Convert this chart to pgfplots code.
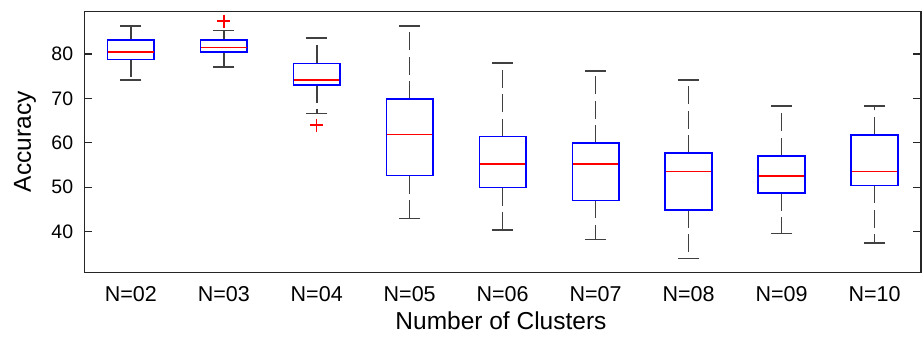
\documentclass[border=0pt]{standalone}
\usepackage{pgfplots}
\usepackage{pgfplotstable}
\pgfplotsset{compat=1.18}
\usepackage{fontspec}
\setmainfont{Liberation Sans}
\definecolor{wcol}{gray}{0.25}
% box statistics: position, lower whisker, lower quartile, median, upper quartile, upper whisker
\pgfplotstableread{
x lw lq med uq uw
1 74.1 78.8 80.5 83.1 86.3
2 77.1 80.5 81.5 83.1 85.3
3 66.6 73.1 74.1 77.9 83.6
4 42.9 52.6 61.9 69.8 86.3
5 40.3 49.9 55.2 61.4 78.0
6 38.2 47.0 55.2 59.9 76.2
7 33.9 44.9 53.5 57.7 74.1
8 39.6 48.7 52.5 57.1 68.3
9 37.4 50.4 53.5 61.8 68.3
}\stats
\pgfplotstableread{
x y
2 87.4
3 64.0
}\outl
\begin{document}
\begin{tikzpicture}
\path[use as bounding box] (-84.3bp,-65bp) rectangle (839.7bp,272.3bp);
\begin{axis}[
  scale only axis,
  width=836.7bp, height=261bp,
  xmin=0.5, xmax=9.5,
  ymin=30.82, ymax=89.63,
  clip=false,
  axis line style={draw=black!85, line width=1.4bp},
  xtick={1,2,3,4,5,6,7,8,9},
  xticklabels={N=02,N=03,N=04,N=05,N=06,N=07,N=08,N=09,N=10},
  xtick style={draw=none},
  ytick={40,50,60,70,80},
  ytick style={draw=black!85, line width=1.3bp},
  tick align=inside,
  major tick length=8bp,
  /pgf/number format/assume math mode=true,
  yticklabel style={font=\fontsize{19.5bp}{23bp}\selectfont, anchor=east, inner sep=0pt, xshift=-11bp},
  xticklabel style={font=\fontsize{21.5bp}{25bp}\selectfont, anchor=base, inner sep=0pt, yshift=-29bp},
  xlabel={Number of Clusters},
  ylabel={Accuracy},
  xlabel style={font=\fontsize{24.5bp}{28bp}\selectfont, at={(axis description cs:0.498,-0.2184)}, anchor=base, inner sep=0pt},
  ylabel style={font=\fontsize{24.5bp}{28bp}\selectfont, at={(axis description cs:-0.0709,0.5)}, anchor=center, inner sep=0pt},
]
% upper whiskers (dashed) with solid caps
\addplot[draw=none, mark=none, error bars/.cd, y dir=plus, y explicit,
  error bar style={draw=wcol, line width=1.6bp, dash pattern=on 18bp off 6.5bp},
  error mark=-, error mark options={rotate=90, solid, draw=wcol, line width=1.6bp, mark size=10.7bp}]
  table[x=x, y=uq, y error expr=\thisrow{uw}-\thisrow{uq}] {\stats};
% lower whiskers
\addplot[draw=none, mark=none, error bars/.cd, y dir=minus, y explicit,
  error bar style={draw=wcol, line width=1.6bp, dash pattern=on 18bp off 6.5bp},
  error mark=-, error mark options={rotate=90, solid, draw=wcol, line width=1.6bp, mark size=10.7bp}]
  table[x=x, y=lq, y error expr=\thisrow{lq}-\thisrow{lw}] {\stats};
% box left and right sides
\addplot[draw=none, mark=none, error bars/.cd, y dir=both, y explicit,
  error bar style={draw=blue, line width=1.7bp, line cap=rect}, error mark=none]
  table[x expr=\thisrow{x}-0.25, y expr=(\thisrow{lq}+\thisrow{uq})/2, y error expr=(\thisrow{uq}-\thisrow{lq})/2] {\stats};
\addplot[draw=none, mark=none, error bars/.cd, y dir=both, y explicit,
  error bar style={draw=blue, line width=1.7bp, line cap=rect}, error mark=none]
  table[x expr=\thisrow{x}+0.25, y expr=(\thisrow{lq}+\thisrow{uq})/2, y error expr=(\thisrow{uq}-\thisrow{lq})/2] {\stats};
% box top and bottom
\addplot[draw=none, mark=none, error bars/.cd, x dir=both, x explicit,
  error bar style={draw=blue, line width=1.7bp, line cap=rect}, error mark=none]
  table[x=x, y=uq, x error expr=0.25] {\stats};
\addplot[draw=none, mark=none, error bars/.cd, x dir=both, x explicit,
  error bar style={draw=blue, line width=1.7bp, line cap=rect}, error mark=none]
  table[x=x, y=lq, x error expr=0.25] {\stats};
% medians
\addplot[draw=none, mark=none, error bars/.cd, x dir=both, x explicit,
  error bar style={draw=red, line width=1.7bp}, error mark=none]
  table[x=x, y=med, x error expr=0.245] {\stats};
% outliers
\addplot[only marks, mark=+, mark size=6.5bp, mark options={draw=red, line width=1.5bp}] table[x=x, y=y] {\outl};
\end{axis}
\end{tikzpicture}
\end{document}
